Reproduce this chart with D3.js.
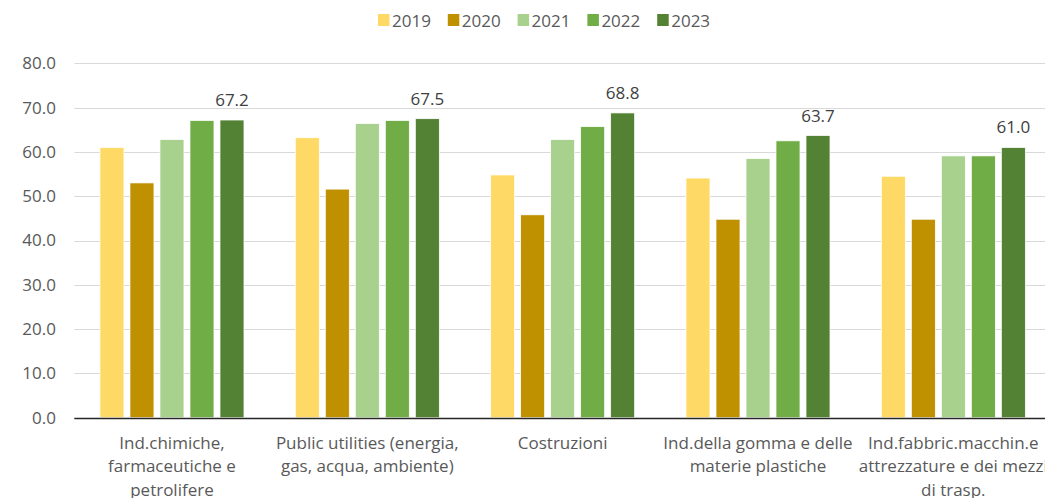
<!DOCTYPE html>
<html>
<head>
<meta charset="utf-8">
<script src="https://cdn.jsdelivr.net/npm/d3@7"></script>
<style>
  html, body { margin: 0; padding: 0; background: #fff; overflow: hidden; }
  svg { display: block; font-family: "Open Sans", sans-serif; }
</style>
</head>
<body>
<div id="chart"></div>
<script>
// Sector categories (each label split into its display lines)
const categories = [
  "Ind.chimiche, farmaceutiche e petrolifere",
  "Public utilities (energia, gas, acqua, ambiente)",
  "Costruzioni",
  "Ind.della gomma e delle materie plastiche",
  "Ind.fabbric.macchin.e attrezzature e dei mezzi di trasp."
];
const categoryLines = [
  ["Ind.chimiche,", "farmaceutiche e", "petrolifere"],
  ["Public utilities (energia,", "gas, acqua, ambiente)"],
  ["Costruzioni"],
  ["Ind.della gomma e delle", "materie plastiche"],
  ["Ind.fabbric.macchin.e", "attrezzature e dei mezzi", "di trasp."]
];

// Series: one value per category, per year
const years = ["2019", "2020", "2021", "2022", "2023"];
const v2019 = [61.0, 63.2, 54.8, 54.1, 54.5];
const v2020 = [53.0, 51.6, 45.8, 44.8, 44.8];
const v2021 = [62.8, 66.4, 62.8, 58.5, 59.1];
const v2022 = [67.1, 67.1, 65.7, 62.5, 59.1];
const v2023 = [67.2, 67.5, 68.8, 63.7, 61.0];
const seriesValues = [v2019, v2020, v2021, v2022, v2023];

// Y axis ticks
const yTicks = [0, 10, 20, 30, 40, 50, 60, 70, 80];

const colors = ["#FFD966", "#BF9000", "#A9D18E", "#70AD47", "#548235"];

const width = 1045, height = 498;
const plot = { left: 74.3, right: 1051, top: 63.3, bottom: 417.7 };

const svg = d3.select("#chart").append("svg")
  .attr("width", width).attr("height", height);

const y = d3.scaleLinear().domain([0, 80]).range([plot.bottom, plot.top]);
const x0 = d3.scaleBand().domain(categories).range([plot.left, plot.right])
  .paddingInner(0).paddingOuter(0);
const x1 = d3.scaleBand().domain(years).range([0, x0.bandwidth()])
  .paddingInner(0.2).paddingOuter(0.855);

// Gridlines
svg.append("g").selectAll("line")
  .data(yTicks.filter(d => d > 0))
  .join("line")
  .attr("x1", plot.left).attr("x2", plot.right)
  .attr("y1", d => Math.round(y(d)) + 0.5).attr("y2", d => Math.round(y(d)) + 0.5)
  .attr("stroke", "#d9d9d9").attr("stroke-width", 1);

// Y axis labels
const yAxis = d3.axisLeft(y).tickValues(yTicks).tickFormat(d3.format(".1f"))
  .tickSize(0).tickPadding(0);
const yg = svg.append("g").attr("transform", `translate(56,0)`).call(yAxis);
yg.select(".domain").remove();
yg.selectAll("text")
  .attr("fill", "#595959").attr("font-size", "17px")
  .attr("font-family", "'Open Sans', sans-serif");

// Bars
const groups = svg.append("g").selectAll("g")
  .data(categories)
  .join("g")
  .attr("transform", d => `translate(${x0(d)},0)`);

groups.selectAll("rect")
  .data((c, i) => years.map((yr, j) => ({ yr, j, v: seriesValues[j][i] })))
  .join("rect")
  .attr("x", d => x1(d.yr))
  .attr("width", x1.bandwidth())
  .attr("y", d => y(d.v))
  .attr("height", d => y(0) - y(d.v))
  .attr("fill", d => colors[d.j])
  .attr("stroke", "#ffffff").attr("stroke-width", 0.75);

// Value labels on the 2023 series
groups.append("text")
  .attr("x", () => x1("2023") + x1.bandwidth() / 2)
  .attr("y", (c, i) => y(v2023[i]) - 14)
  .attr("text-anchor", "middle")
  .attr("fill", "#404040").attr("font-size", "17px")
  .text((c, i) => d3.format(".1f")(v2023[i]));

// Baseline
svg.append("line")
  .attr("x1", plot.left).attr("x2", plot.right)
  .attr("y1", Math.round(y(0)) + 0.5).attr("y2", Math.round(y(0)) + 0.5)
  .attr("stroke", "#262626").attr("stroke-width", 1.3);

// Category labels
groups.append("text")
  .attr("text-anchor", "middle")
  .attr("fill", "#595959").attr("font-size", "17px")
  .selectAll("tspan")
  .data((c, i) => categoryLines[i])
  .join("tspan")
  .attr("x", x0.bandwidth() / 2)
  .attr("y", (d, k) => 449 + k * 23.3)
  .text(d => d);

// Legend
const legend = svg.append("g").selectAll("g")
  .data(years)
  .join("g")
  .attr("transform", (d, i) => `translate(${378 + i * 69.8},0)`);
legend.append("rect")
  .attr("x", 0).attr("y", 14).attr("width", 11.5).attr("height", 12)
  .attr("fill", (d, i) => colors[i]);
legend.append("text")
  .attr("x", 14).attr("y", 26.5)
  .attr("fill", "#595959").attr("font-size", "17px")
  .text(d => d);
</script>
</body>
</html>
